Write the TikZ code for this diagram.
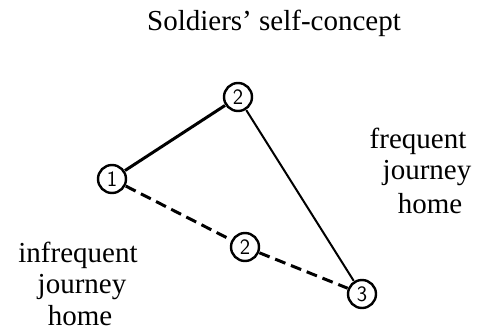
\documentclass[tikz,border=0pt]{standalone}
\usepackage{fontspec}
\setmainfont{Liberation Serif}
\begin{document}
\begin{tikzpicture}[x=1pt,y=-1pt,
  num/.style={circle,draw,line width=2.4pt,inner sep=0pt,minimum size=28pt,font=\fontsize{22}{22}\selectfont\sffamily,outer sep=1.5pt},
  lbl/.style={font=\fontsize{29}{29}\selectfont},
  solidthick/.style={line width=3pt},
  solidthin/.style={line width=2pt},
  dashedline/.style={line width=3pt,dash pattern=on 11pt off 6pt}]
\useasboundingbox (0,0) rectangle (478,332);
\node[lbl] (title) at (274,23) {Soldiers’ self-concept};
\node[num] (n1) at (112,179) {1};
\node[num] (n2a) at (238,97) {2};
\node[num] (n2b) at (245,247) {2};
\node[num] (n3) at (362,294) {3};
\draw[solidthick] (n1) -- (n2a);
\draw[solidthin] (n2a) -- (n3);
\draw[dashedline] (n1) -- (n2b);
\draw[dashedline] (n2b) -- (n3);
\node[lbl] (f1) at (418,141) {frequent};
\node[lbl] (f2) at (427,173) {journey};
\node[lbl] (f3) at (430,204) {home};
\node[lbl] (i1) at (78,255) {infrequent};
\node[lbl] (i2) at (82,287) {journey};
\node[lbl] (i3) at (80,316) {home};
\end{tikzpicture}
\end{document}
